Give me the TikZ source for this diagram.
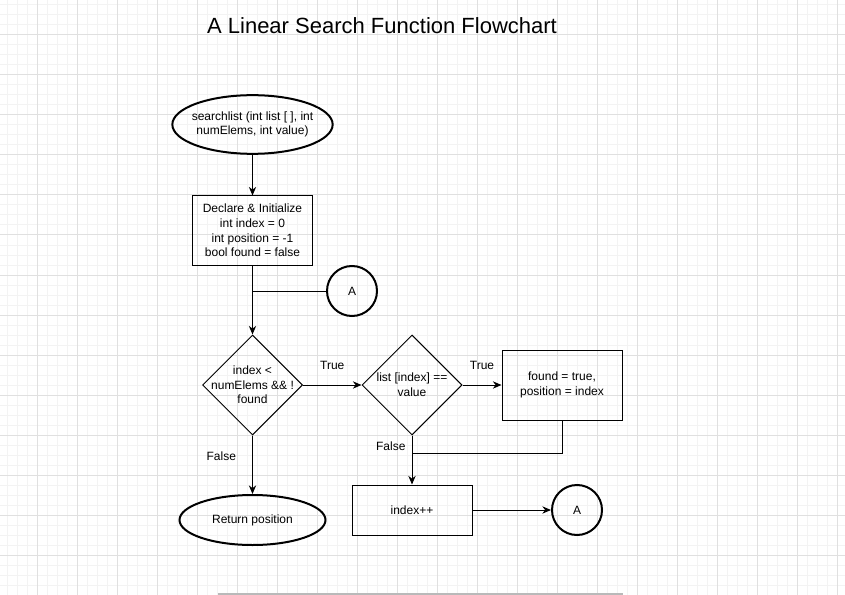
\documentclass[tikz,border=0pt]{standalone}
\usepackage{fontspec}
\setmainfont{Liberation Sans}
\usetikzlibrary{arrows.meta}
\usetikzlibrary{shapes.geometric}
\definecolor{gridminor}{HTML}{F3F3F3}
\definecolor{gridmajor}{HTML}{E0E0E0}

\begin{document}
\begin{tikzpicture}[
		x = 0.75pt, y = -0.75pt,
		font = \fontsize{9}{11}\selectfont,
		line/.style = {draw = black, line width = 0.75pt},
		arrow/.style = {line, -{Stealth[length = 6.5pt, width = 5.5pt]}},
		terminal/.style = {
			ellipse, draw = black, line width = 1.5pt,
			inner xsep = -3pt, inner ysep = 0pt, align = center,
		},
		process/.style = {
			rectangle, draw = black, line width = 0.75pt,
			minimum width = 90pt, align = center,
		},
		decision/.style = {
			diamond, draw = black, line width = 0.75pt,
			minimum width = 75pt, minimum height = 75pt,
			inner sep = 0pt, align = center,
		},
		connector/.style = {
			circle, draw = black, line width = 1.5pt,
			minimum size = 37.5pt, inner sep = 0pt,
		},
		lbl/.style = {inner sep = 0pt},
	]

	% background grid
	\useasboundingbox (0,0) rectangle (845,595);
	\fill[white] (0,0) rectangle (845,595);
	\foreach \gx in {7.5,17.5,...,845}
		\draw[gridminor, line width = 0.75pt] (\gx,0) -- (\gx,595);
	\foreach \gy in {5,15,...,595}
		\draw[gridminor, line width = 0.75pt] (0,\gy) -- (845,\gy);
	\foreach \gx in {37.5,77.5,...,845}
		\draw[gridmajor, line width = 0.75pt] (\gx,0) -- (\gx,595);
	\foreach \gy in {35,75,...,595}
		\draw[gridmajor, line width = 0.75pt] (0,\gy) -- (845,\gy);
	\draw[gray!55, line width = 1.5pt] (218,594) -- (623,594);

	\node[font = \fontsize{16.5}{20}\selectfont] (title) at (382,26)
		{A Linear Search Function Flowchart};

	\node[
		terminal,
		minimum width = 120pt, minimum height = 44pt,
	] (start) at (252.5,124.5) {searchlist (int list [ ], int\\numElems, int value)};

	\node[
		process, minimum height = 51.75pt,
	] (init) at (252.5,230.5)
		{Declare \& Initialize\\int index = 0\\int position = -1\\bool found = false};

	\node[connector] (conA) at (352,291) {A};

	\node[
		decision, inner xsep = -10pt,
	] (loop) at (252.5,385) {index <\\numElems \&\& !\\found};

	\node[decision] (check) at (412,385) {list [index] ==\\value};

	\node[
		process, minimum height = 52.5pt,
	] (found) at (562,385) {found = true,\\position = index};

	\node[process, minimum height = 37.5pt] (inc) at (412,510) {index++};
	\node[connector] (conB) at (577,510) {A};

	\node[
		terminal,
		minimum width = 109.5pt, minimum height = 37.5pt,
	] (ret) at (252.5,520) {Return position};

	\coordinate (join) at (412,453);

	\draw[arrow] (start) -- (init);
	\draw[arrow] (init) -- (loop);
	\draw[line] (conA) -- (conA -| init);
	\draw[arrow] (loop) -- node[lbl, above = 11pt] {True} (check);
	\draw[arrow] (check) -- node[lbl, above = 11pt] {True} (found);
	\draw[arrow] (check) -- node[lbl, pos = 0.22, left = 4.5pt] {False} (inc);
	\draw[line] (found) |- (join);
	\draw[arrow] (loop) -- node[lbl, pos = 0.35, left = 12pt] {False} (ret);
	\draw[arrow] (inc) -- (conB);

\end{tikzpicture}
\end{document}
